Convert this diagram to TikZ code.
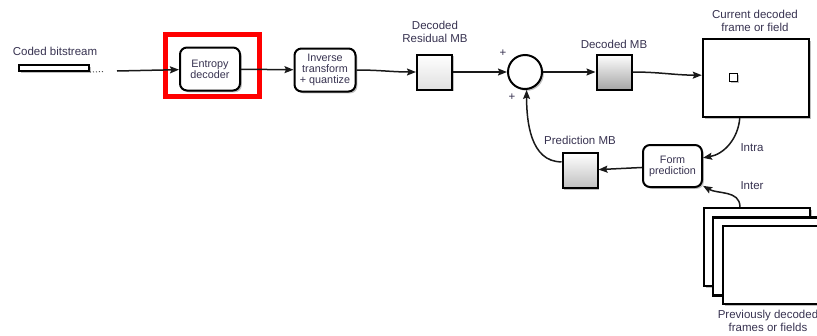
\documentclass[tikz,border=0pt]{standalone}
\usepackage{fontspec}
\setmainfont{Liberation Sans}
\usepackage{tikz}
\usetikzlibrary{arrows.meta,shadows}
\definecolor{labelcol}{RGB}{55,50,80}

\begin{document}
\begin{tikzpicture}[x=1pt,y=-1pt]
\useasboundingbox (0,0) rectangle (817,335);
\clip (0,0) rectangle (817,335);

\begin{scope}[every node/.style={draw,line width=2pt,fill=white,inner sep=0pt,
              drop shadow={shadow xshift=1.8pt,shadow yshift=-1.8pt,opacity=0.5},
              text=labelcol,align=center,font=\fontsize{10.8}{11}\selectfont}]
    \node[minimum width=70pt,minimum height=6pt] (bits) at (54,68) {};
    \node[rounded corners=7pt,minimum width=60pt,minimum height=43pt] (entropy) at (210,69) {Entropy\\decoder};
    \node[rounded corners=7pt,minimum width=61pt,minimum height=43pt] (invq) at (325,70) {Inverse\\transform\\+ quantize};
    \node[minimum size=35pt,top color=white,bottom color=black!12] (resid) at (434.5,72) {};
    \node[circle,minimum size=34pt] (sum) at (525,72) {};
    \node[minimum size=35pt,top color=white,bottom color=black!35] (dmb) at (614,72) {};
    \node[line width=2.4pt,minimum width=106pt,minimum height=78pt] (cur) at (756,78) {};
    \node[line width=1.6pt,minimum size=8pt,drop shadow={opacity=0}] (mb) at (733.5,77.5) {};
    \node[rounded corners=7pt,minimum width=59pt,minimum height=42pt] (form) at (672.5,166) {Form\\prediction};
    \node[minimum size=35pt,top color=white,bottom color=black!25] (pmb) at (580,170.5) {};
    \node[line width=2.4pt,minimum width=106pt,minimum height=78pt] (prev1) at (757,247) {};
    \node[line width=2.4pt,minimum width=106pt,minimum height=78pt] (prev2) at (766,256.5) {};
    \node[line width=2.4pt,minimum width=106pt,minimum height=78pt] (prev3) at (776,265) {};
\end{scope}

% highlight
\node[draw=red,line width=5pt,inner sep=0pt,minimum width=94pt,minimum height=62pt] (hilite) at (212.5,65.5) {};

\coordinate (dots) at (104,71.5);
\coordinate (bitsend) at (117,71);
\draw[line width=1pt,dotted,black!70] (bits.south east) -- (dots);

\begin{scope}[>={Stealth[length=9pt,width=7pt,inset=1.5pt]},
              every edge/.style={draw=black!90,line width=1.5pt}]
    \path [->] (bitsend) edge (entropy);
    \path [->] (entropy) edge (invq);
    \path [->] (invq) edge[out=0,in=180] (resid);
    \path [->] (resid) edge (sum);
    \path [->] (sum) edge (dmb);
    \path [->] (dmb) edge[out=0,in=180] (cur.177);
    \path [->] (cur.-112) edge[out=-95,in=10] (form.15);
    \path [->] (prev1.113) edge[out=90,in=-30] (form.-33);
    \path [->] (form) edge (pmb);
    \path [->] (pmb.155) edge[out=180,in=-90] (sum.-85);
\end{scope}

\begin{scope}[every node/.style={text=labelcol,align=center,inner sep=0pt,
              font=\fontsize{11.5}{12.5}\selectfont}]
    \node (lbits) at (55,51) {Coded bitstream};
    \node (lresid) at (435,32) {Decoded\\Residual MB};
    \node (lplus1) at (503,53) {+};
    \node (lplus2) at (512,97) {+};
    \node (ldmb) at (614,44) {Decoded MB};
    \node (lcur) at (755,21) {Current decoded\\frame or field};
    \node (lpmb) at (580,140) {Prediction MB};
    \node (lintra) at (752,148) {Intra};
    \node (linter) at (752,186) {Inter};
    \node (lprev) at (768,321) {Previously decoded\\frames or fields};
\end{scope}
\end{tikzpicture}
\end{document}
